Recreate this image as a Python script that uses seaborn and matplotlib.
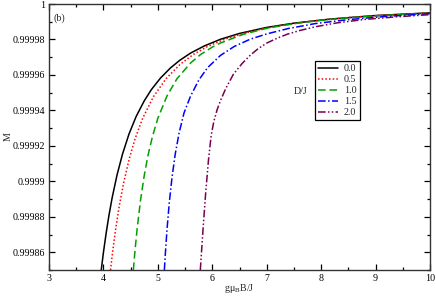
import numpy as np
import pandas as pd
import matplotlib
matplotlib.use("Agg")
import matplotlib.pyplot as plt
import seaborn as sns
from matplotlib.ticker import MultipleLocator, FuncFormatter

# Data (field gμB B/J vs magnetisation M)
field_d00 = [3.96, 4.00, 4.05, 4.10, 4.16, 4.25, 4.35, 4.47, 4.60, 4.75, 4.88, 5.05, 5.23, 5.40, 5.60, 5.85, 6.15, 6.50, 7.00, 7.50, 8.17, 9.00, 10.0]
m_d00 = [0.999850, 0.9998599, 0.9998708, 0.9998805, 0.9998907, 0.9999036, 0.9999153, 0.9999267, 0.9999365, 0.9999454,
         0.9999517, 0.9999583, 0.9999639, 0.9999682, 0.9999723, 0.9999763, 0.9999801, 0.9999834, 0.9999868, 0.9999892,
         0.9999915, 0.9999935, 0.9999950]

field_d05 = [4.13, 4.17, 4.22, 4.29, 4.37, 4.47, 4.58, 4.72, 4.92, 5.15, 5.41, 5.65, 5.91, 6.25, 6.70, 7.20, 7.80, 8.50, 9.20, 10.0]
m_d05 = [0.999850, 0.9998605, 0.9998721, 0.999886, 0.9998989, 0.9999122, 0.9999239, 0.9999355, 0.9999478, 0.9999579,
         0.999966, 0.9999715, 0.999976, 0.9999804, 0.9999845, 0.9999876, 0.9999903, 0.9999924, 0.9999938, 0.999995]

field_d10 = [4.55, 4.58, 4.62, 4.68, 4.75, 4.82, 4.90, 5.00, 5.17, 5.35, 5.60, 5.78, 6.00, 6.15, 6.57, 7.00, 7.50, 8.00, 8.50, 9.00, 9.50, 10.0]
m_d10 = [0.99985, 0.999861, 0.9998734, 0.999889, 0.9999033, 0.9999148, 0.9999252, 0.9999356, 0.9999483, 0.9999578,
         0.9999667, 0.9999714, 0.9999757, 0.999978, 0.9999829, 0.9999863, 0.9999889, 0.9999908, 0.9999922, 0.9999933,
         0.9999941, 0.9999948]

field_d15 = [5.12, 5.14, 5.17, 5.21, 5.26, 5.32, 5.39, 5.48, 5.60, 5.75, 5.91, 6.15, 6.40, 6.70, 7.01, 7.40, 7.90, 8.50, 9.20, 10.0]
m_d15 = [0.99985, 0.9998603, 0.9998735, 0.999888, 0.9999022, 0.9999155, 0.9999273, 0.9999385, 0.999948, 0.999957,
         0.999964, 0.999971, 0.999976, 0.9999802, 0.9999832, 0.9999862, 0.999989, 0.9999912, 0.999993, 0.9999945]

field_d20 = [5.78, 5.83, 5.88, 5.93, 5.98, 6.03, 6.09, 6.15, 6.25, 6.39, 6.55, 6.70, 6.85, 7.01, 7.20, 7.38, 7.60, 7.90, 8.30, 8.80, 9.40, 10.0]
m_d20 = [0.99985, 0.999873, 0.999894, 0.999912, 0.999926, 0.999934, 0.9999405, 0.9999455, 0.9999525, 0.9999605,
         0.9999665, 0.9999712, 0.999975, 0.9999781, 0.9999808, 0.999983, 0.999985, 0.9999872, 0.9999894, 0.9999913,
         0.9999928, 0.999994]

d_labels = ["0.0", "0.5", "1.0", "1.5", "2.0"]
x_ticks = [3, 4, 5, 6, 7, 8, 9, 10]
y_ticks = [0.99986, 0.99988, 0.9999, 0.99992, 0.99994, 0.99996, 0.99998, 1.0]

frames = []
for lab, fx, my in zip(d_labels,
                       [field_d00, field_d05, field_d10, field_d15, field_d20],
                       [m_d00, m_d05, m_d10, m_d15, m_d20]):
    frames.append(pd.DataFrame({"B": fx, "M": my, "D/J": lab}))
df = pd.concat(frames, ignore_index=True)

sns.set_theme(style="ticks")
plt.rcParams["font.family"] = ["Liberation Serif", "DejaVu Serif"]
plt.rcParams["mathtext.fontset"] = "custom"
plt.rcParams["mathtext.rm"] = "Liberation Serif"
plt.rcParams["mathtext.it"] = "Liberation Serif"

fs = 7.2
fig = plt.figure(figsize=(4.36, 3.01), dpi=100)
ax = fig.add_axes([49 / 436, 1 - 270 / 301, (430 - 49) / 436, (270 - 4) / 301])

palette = {"0.0": "#000000", "0.5": "#ff0000", "1.0": "#00a000", "1.5": "#0000ff", "2.0": "#780050"}
dashes = {"0.0": "", "0.5": (1, 1.4), "1.0": (5, 2.5), "1.5": (5, 1.6, 1, 1.6), "2.0": (5, 1.5, 1, 1.5, 1, 1.5)}

sns.lineplot(data=df, x="B", y="M", hue="D/J", style="D/J", palette=palette, dashes=dashes,
             estimator=None, sort=True, lw=1.1, ax=ax, legend=True)

ax.set_xlim(3, 10)
ax.set_ylim(0.99985, 1.0)
ax.set_xticks(x_ticks)
ax.set_yticks(y_ticks)
ax.xaxis.set_minor_locator(MultipleLocator(0.5))
ax.yaxis.set_minor_locator(MultipleLocator(0.00001))
ax.yaxis.set_major_formatter(FuncFormatter(lambda v, p: "{:g}".format(round(v, 6))))
ax.xaxis.set_major_formatter(FuncFormatter(lambda v, p: "{:g}".format(v)))
ax.tick_params(which="both", direction="in", top=True, right=True, labelsize=fs, colors="black", width=0.9, pad=3)
ax.tick_params(which="major", length=4)
ax.tick_params(which="minor", length=2.5)
for s in ax.spines.values():
    s.set_visible(True)
    s.set_linewidth(1.0)
    s.set_color("#333333")

ax.set_xlabel(r"g$\mathrm{\mu}_\mathrm{B}$B/J", fontsize=fs)
ax.xaxis.set_label_coords(0.5, -0.045)
ax.set_ylabel("M", fontsize=fs)
ax.yaxis.set_label_coords(-0.095, 0.5)
ax.text(0.012, 0.965, "(b)", transform=ax.transAxes, fontsize=fs, ha="left", va="top")

handles, labels = ax.get_legend_handles_labels()
leg = ax.legend(handles, labels, loc="upper left", bbox_to_anchor=(315 / 436, 1 - 61 / 301),
                bbox_transform=fig.transFigure, fontsize=fs, frameon=True, fancybox=False,
                edgecolor="black", framealpha=1, handlelength=2.0, handletextpad=0.6,
                labelspacing=0.2, borderpad=0.3, borderaxespad=0)
leg.get_frame().set_linewidth(0.9)
fig.text(294 / 436, 1 - 92 / 301, "D/J", fontsize=fs, ha="left", va="center")

fig.savefig("out.png", dpi=100)
